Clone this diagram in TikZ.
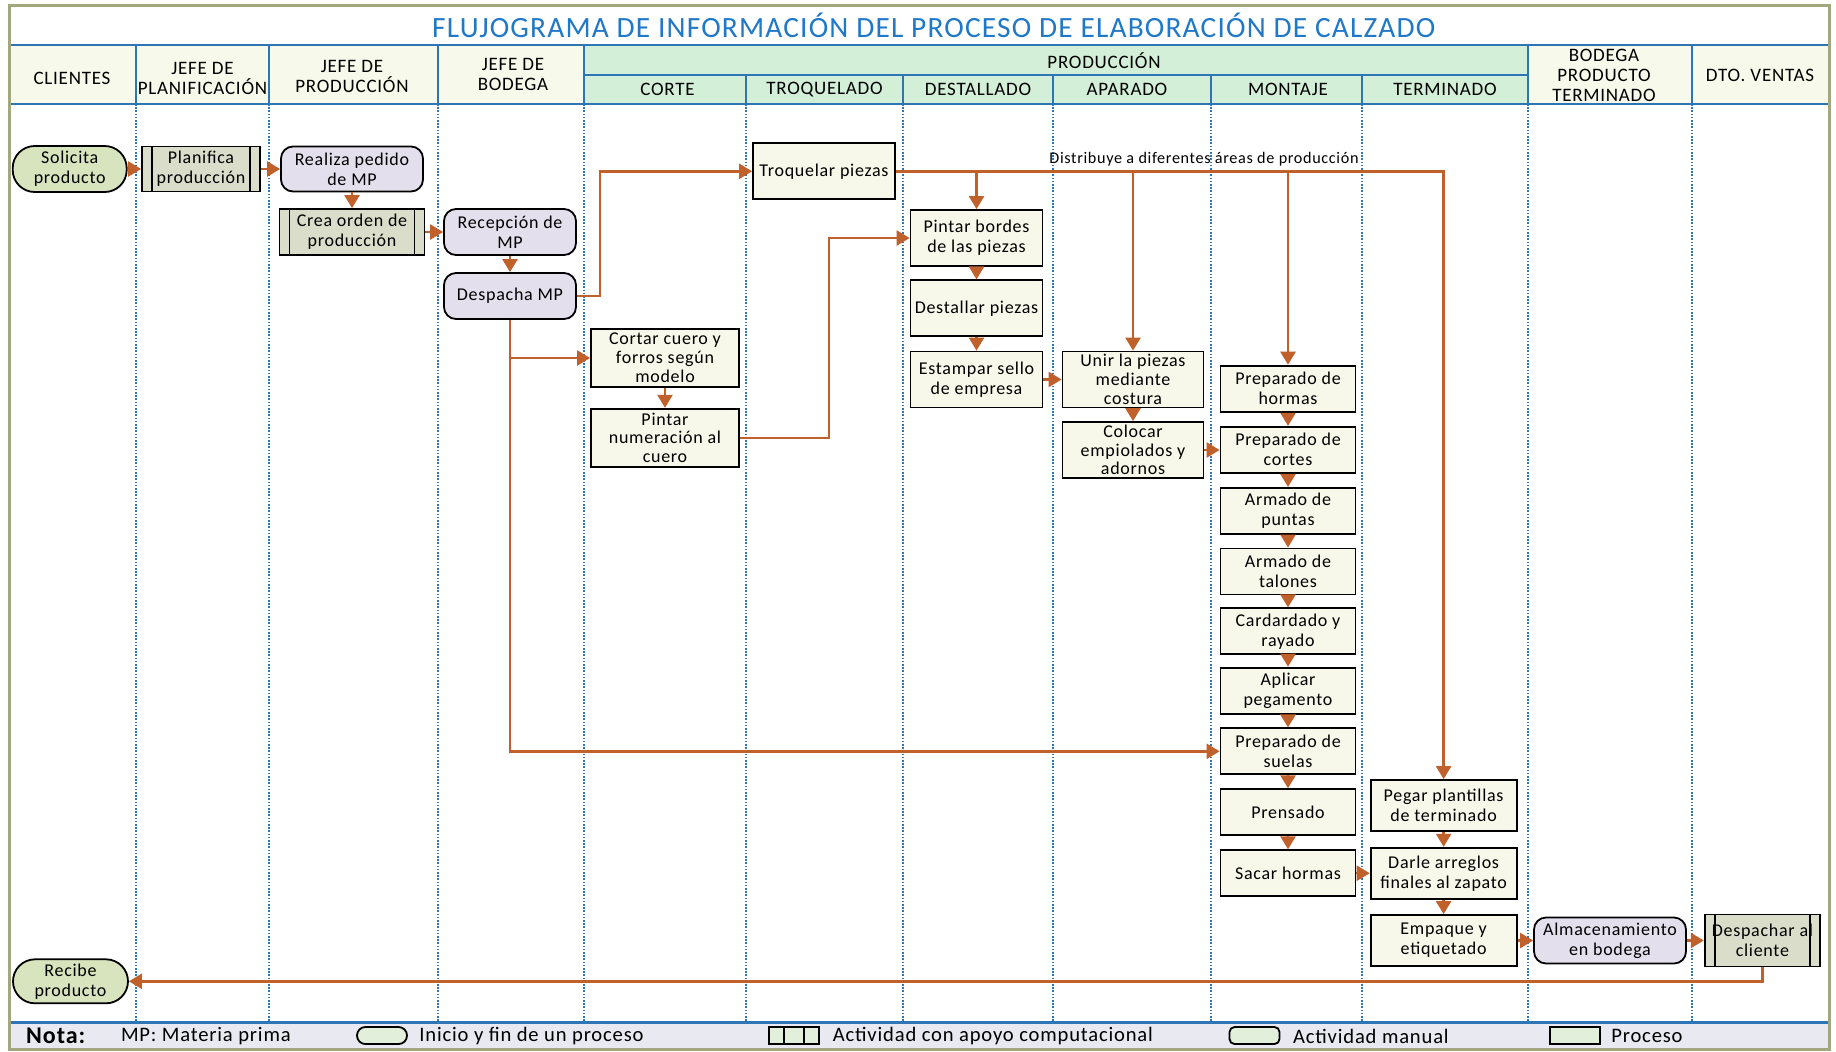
\documentclass[tikz,border=0pt]{standalone}
\usepackage{fontspec}
\setmainfont{Carlito}[LetterSpace=4]
\usetikzlibrary{arrows.meta,calc}

\definecolor{arrowc}{HTML}{C0602A}
\definecolor{procfill}{HTML}{F7F8E9}
\definecolor{termfill}{HTML}{D7E4BD}
\definecolor{predfill}{HTML}{DADDC9}
\definecolor{manfill}{HTML}{E4DFEC}
\definecolor{hdrcream}{HTML}{F7F9EA}
\definecolor{hdrgreen}{HTML}{D3EFD7}
\definecolor{lineblue}{HTML}{2E75B6}
\definecolor{titleblue}{HTML}{1F78C8}
\definecolor{framec}{HTML}{A3A77F}
\definecolor{footfill}{HTML}{E9E9F2}
\definecolor{legfill}{HTML}{E2EFDA}

\tikzset{
  box/.style={draw=black, line width=0.9pt, align=center, inner xsep=1pt, inner ysep=0pt,
    font=\fontsize{9}{10}\selectfont},
  proc/.style={box, fill=procfill, rectangle},
  term/.style={box, fill=termfill, rounded corners=11pt},
  manual/.style={box, fill=manfill, rounded corners=6pt},
  pred/.style={box, fill=predfill,
    path picture={\draw[line width=0.9pt]
      ([xshift=5pt]path picture bounding box.north west) -- ([xshift=5pt]path picture bounding box.south west)
      ([xshift=-5pt]path picture bounding box.north east) -- ([xshift=-5pt]path picture bounding box.south east);}},
  small3/.style={font=\fontsize{9}{9.4}\selectfont},
  sq/.style={minimum width=66pt, minimum height=28pt},
  mont/.style={proc, minimum width=67.5pt, minimum height=23pt},
  term2/.style={proc, minimum width=73pt, minimum height=25.5pt},
  arr/.style={draw=arrowc, line width=1.2pt, -{Triangle[length=6.5pt,width=7.5pt]}},
  hdr/.style={align=center, font=\fontsize{9.5}{10}\selectfont, inner sep=0pt},
  hline/.style={draw=lineblue, line width=1pt},
  colline/.style={draw=lineblue, line width=0.6pt, dash pattern=on 0.8pt off 0.8pt},
  foot/.style={anchor=west, inner sep=0pt, font=\fontsize{10.3}{11}\selectfont},
  leg/.style={draw=black, line width=0.9pt, fill=legfill, minimum width=25pt, minimum height=8.5pt, inner sep=0pt},
}

\begin{document}
\begin{tikzpicture}[x=0.5pt, y=-0.5pt]
\useasboundingbox (0,0) rectangle (1836,1051);
\fill[white] (0,0) rectangle (1836,1051);

% header band
\fill[hdrcream] (9,44.5) rectangle (584,104);
\fill[hdrgreen] (584,44.5) rectangle (1528,104);
\fill[hdrcream] (1528,44.5) rectangle (1829,104);
\draw[hline] (9,44.5) -- (1829,44.5);
\draw[hline] (9,104) -- (1829,104);
\draw[hline] (584,75) -- (1528,75);
\foreach \x in {136,269,438,584,1528,1692} \draw[hline] (\x,44.5) -- (\x,104);
\foreach \x in {746,903,1053,1211,1362} \draw[hline] (\x,75) -- (\x,104);

% lane separators
\foreach \x in {136,269,438,584,746,903,1053,1211,1362,1528,1692}
  \draw[colline] (\x,104) -- (\x,1022);

% footer band
\fill[footfill] (9,1022) rectangle (1829,1049);
\draw[draw=lineblue, line width=1.5pt] (9,1022) -- (1829,1022);

% outer frame
\draw[framec, line width=1.5pt] (9,5.5) rectangle (1829,1049);

% title
\node[font=\fontsize{14.7}{16}\selectfont, text=titleblue, inner sep=0pt] (title) at (933.8,25.8)
  {FLUJOGRAMA DE INFORMACIÓN DEL PROCESO DE ELABORACIÓN DE CALZADO};

% lane headings
\node[hdr] (h1) at (72,78) {CLIENTES};
\node[hdr] (h2) at (202.5,78) {JEFE DE\\PLANIFICACIÓN};
\node[hdr] (h3) at (352,76) {JEFE DE\\PRODUCCIÓN};
\node[hdr] (h4) at (513,74.5) {JEFE DE\\BODEGA};
\node[hdr] (h5) at (1104,61) {PRODUCCIÓN};
\node[hdr] (h5a) at (667.5,89.5) {CORTE};
\node[hdr] (h5b) at (824.5,89.5) {TROQUELADO};
\node[hdr] (h5c) at (978,89.5) {DESTALLADO};
\node[hdr] (h5d) at (1127,89.5) {APARADO};
\node[hdr] (h5e) at (1288,89.5) {MONTAJE};
\node[hdr] (h5f) at (1445,89.5) {TERMINADO};
\node[hdr] (h6) at (1604,75.5) {BODEGA\\PRODUCTO\\TERMINADO};
\node[hdr] (h7) at (1760,75) {DTO. VENTAS};

% activities
\node[term, minimum width=57pt, minimum height=23pt] (sol) at (69.7,169) {Solicita\\producto};
\node[pred, minimum width=59pt, minimum height=22.5pt] (plan) at (201,169) {Planifica\\producción};
\node[manual, minimum width=71pt, minimum height=22.5pt] (ped) at (352,169) {Realiza pedido\\de MP};
\node[pred, minimum width=72.5pt, minimum height=23pt] (ord) at (352,232) {Crea orden de\\producción};
\node[manual, minimum width=66pt, minimum height=23pt] (rec) at (510,232) {Recepción de\\MP};
\node[manual, minimum width=66pt, minimum height=23pt] (desp) at (510,296) {Despacha MP};

\node[proc, minimum width=71pt, minimum height=28pt] (troq) at (824,171.3) {Troquelar piezas};
\node[proc, sq] (bord) at (976.5,238) {Pintar bordes\\de las piezas};
\node[proc, sq] (dest) at (976.5,308.3) {Destallar piezas};
\node[proc, sq] (sello) at (976.5,379.5) {Estampar sello\\de empresa};
\node[proc, small3, minimum width=74pt, minimum height=29pt] (cort) at (665,358) {Cortar cuero y\\forros según\\modelo};
\node[proc, small3, minimum width=74pt, minimum height=29pt] (num) at (665,437.7) {Pintar\\numeración al\\cuero};
\node[proc, small3, minimum width=70.5pt, minimum height=28pt] (unir) at (1133,379.5) {Unir la piezas\\mediante\\costura};
\node[proc, small3, minimum width=70.5pt, minimum height=28pt] (colo) at (1133,450) {Colocar\\empiolados y\\adornos};

\node[mont] (phor) at (1288,388.6) {Preparado de\\hormas};
\node[mont] (pcor) at (1288,449.7) {Preparado de\\cortes};
\node[mont] (apun) at (1288,510.8) {Armado de\\puntas};
\node[mont] (atal) at (1288,571.4) {Armado de\\talones};
\node[mont] (card) at (1288,631.3) {Cardardado y\\rayado};
\node[mont] (apeg) at (1288,690.6) {Aplicar\\pegamento};
\node[mont] (psuel) at (1288,751.3) {Preparado de\\suelas};
\node[mont] (pren) at (1288,812.2) {Prensado};
\node[mont] (sach) at (1288,873.2) {Sacar hormas};

\node[term2] (pegar) at (1443.6,805.5) {Pegar plantillas\\de terminado};
\node[term2] (darle) at (1443.6,873.2) {Darle arreglos\\finales al zapato};
\node[term2] (emp) at (1443.6,940.5) {Empaque y\\etiquetado};
\node[manual, minimum width=76pt, minimum height=23pt] (alm) at (1610,940.5) {Almacenamiento\\en bodega};
\node[pred, minimum width=57.75pt, minimum height=26pt] (despc) at (1762.4,940.5) {Despachar al\\cliente};
\node[term, minimum width=57.5pt, minimum height=22pt] (recibe) at (70.5,981.3) {Recibe\\producto};

% flow
\draw[arr] (sol) -- (plan);
\draw[arr] (plan) -- (ped);
\draw[arr] (ped) -- (ord);
\draw[arr] (ord) -- (rec);
\draw[arr] (rec) -- (desp);
\coordinate (j1) at (600,296);
\draw[arr] (desp.east) -- (j1) |- (troq.west);
\draw[arr] (desp.south) |- (psuel.west);
\draw[arr] (desp.south |- cort.west) -- (cort.west);
\draw[arr] (cort) -- (num);
\coordinate (j2) at (829,0);
\draw[arr] (num.east) -- (num.east -| j2) |- (bord.west);

\draw[arr] (troq.east) -| (pegar.north);
\draw[arr] (troq.east -| bord.north) -- (bord.north);
\draw[arr] (troq.east -| unir.north) -- (unir.north);
\draw[arr] (troq.east -| phor.north) -- (phor.north);
\node[font=\fontsize{8.1}{9}\selectfont, inner sep=0pt] (dist) at (1204,159) {Distribuye a diferentes áreas de producción};

\draw[arr] (bord) -- (dest);
\draw[arr] (dest) -- (sello);
\draw[arr] (sello) -- (unir);
\draw[arr] (unir) -- (colo);
\draw[arr] (colo.east) -- (colo.east -| pcor.west);

\foreach \a/\b in {phor/pcor, pcor/apun, apun/atal, atal/card, card/apeg, apeg/psuel, psuel/pren, pren/sach}
  \draw[arr] (\a) -- (\b);

\draw[arr] (sach) -- (darle);
\draw[arr] (pegar) -- (darle);
\draw[arr] (darle) -- (emp);
\draw[arr] (emp) -- (alm);
\draw[arr] (alm) -- (despc);
\draw[arr] (despc.south) |- (recibe.east);

% legend
\node[anchor=west, inner sep=0pt, font=\bfseries\fontsize{12}{13}\selectfont] (nota) at (25.8,1036) {Nota:};
\node[foot] (mp) at (120.6,1036) {MP: Materia prima};
\node[leg, rounded corners=4.2pt] (lg1) at (382,1035.5) {};
\node[foot] (lt1) at (419,1036) {Inicio y fin de un proceso};
\node[leg, path picture={\draw[line width=0.9pt]
      ([xshift=7.5pt]path picture bounding box.north west) -- ([xshift=7.5pt]path picture bounding box.south west)
      ([xshift=-7.5pt]path picture bounding box.north east) -- ([xshift=-7.5pt]path picture bounding box.south east);}] (lg2) at (794,1035.5) {};
\node[foot] (lt2) at (832.5,1036) {Actividad con apoyo computacional};
\node[leg, rounded corners=2.5pt] (lg3) at (1254.5,1035.5) {};
\node[foot] (lt3) at (1292.7,1036) {Actividad manual};
\node[leg] (lg4) at (1575,1035.5) {};
\node[foot] (lt4) at (1611,1036) {Proceso};
\end{tikzpicture}
\end{document}
